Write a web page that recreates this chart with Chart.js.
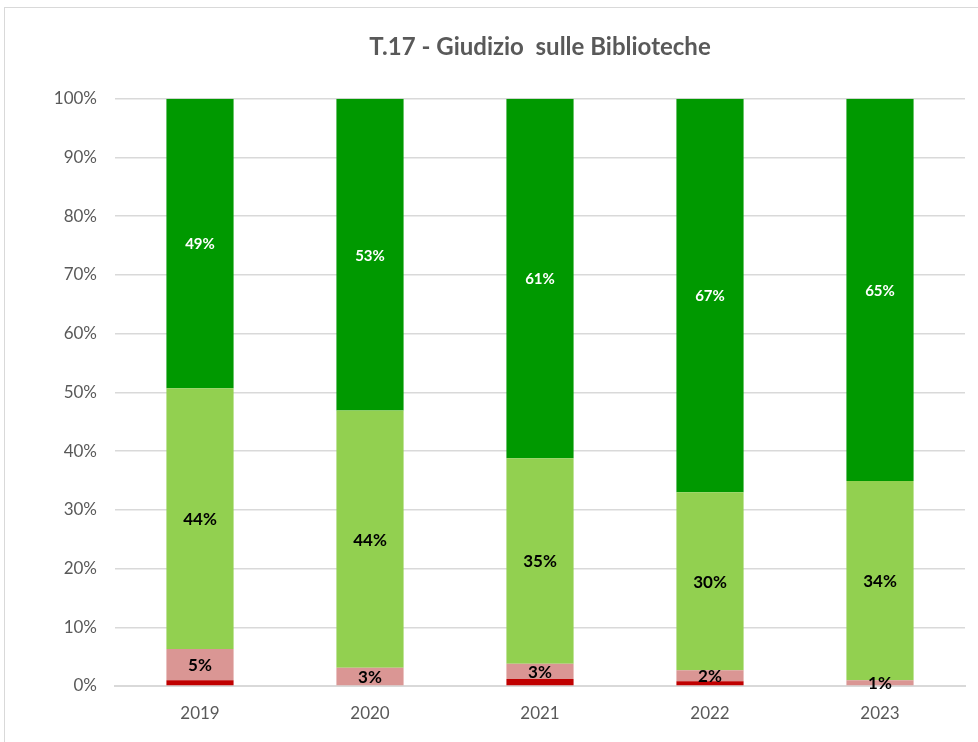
<!DOCTYPE html>
<html>
<head>
<meta charset="utf-8">
<script src="https://cdn.jsdelivr.net/npm/chart.js@4.4.1/dist/chart.umd.min.js"></script>
<style>
  body { margin: 0; background: #fff; }
  #wrap { position: relative; width: 978px; height: 742px; }
  #frame { position: absolute; left: 4px; top: 7px; width: 990px; height: 760px;
           border: 1px solid #d9d9d9; pointer-events: none; }
</style>
</head>
<body>
<div id="wrap">
  <canvas id="chart_biblioteche" width="978" height="742"></canvas>
  <div id="frame"></div>
</div>
<script>
// values (percent of answers)
var years = ['2019', '2020', '2021', '2022', '2023'];
var perNiente = [1.0, 0, 1.2, 0.8, 0];
var poco = [5.3, 3.1, 2.6, 1.9, 1.0];
var abbastanza = [44.4, 43.8, 35.0, 30.3, 33.9];
var molto = [49.3, 53.1, 61.2, 67.0, 65.1];
var yTicks = [0, 10, 20, 30, 40, 50, 60, 70, 80, 90, 100];

var fontName = 'Lato, "Open Sans", sans-serif';

// simple label plugin: writes the rounded value in the middle of each segment
var segmentLabels = {
  id: 'segmentLabels',
  afterDatasetsDraw: function(chart) {
    var ctx = chart.ctx;
    ctx.save();
    ctx.textAlign = 'center';
    ctx.textBaseline = 'middle';
    chart.data.datasets.forEach(function(ds, i) {
      if (!ds.showLabel) return;
      var meta = chart.getDatasetMeta(i);
      meta.data.forEach(function(bar, j) {
        var v = ds.data[j];
        if (!v) return;
        ctx.fillStyle = ds.labelColor;
        ctx.font = 'bold ' + ds.labelSize + 'px ' + fontName;
        var y = (bar.y + bar.base) / 2;
        ctx.fillText(Math.round(v) + '%', bar.x, y + 1);
      });
    });
    ctx.restore();
  }
};

var ctx = document.getElementById('chart_biblioteche');

new Chart(ctx, {
  type: 'bar',
  data: {
    labels: years,
    datasets: [
      { label: 'Per niente soddisfatto', data: perNiente, backgroundColor: '#C00000', showLabel: false },
      { label: 'Poco soddisfatto', data: poco, backgroundColor: '#DA9694', showLabel: true, labelColor: '#000', labelSize: 17 },
      { label: 'Abbastanza soddisfatto', data: abbastanza, backgroundColor: '#92D050', showLabel: true, labelColor: '#000', labelSize: 17 },
      { label: 'Molto soddisfatto', data: molto, backgroundColor: '#009900', showLabel: true, labelColor: '#fff', labelSize: 15 }
    ]
  },
  options: {
    responsive: false,
    animation: false,
    datasets: {
      bar: { categoryPercentage: 1, barPercentage: 0.395 }
    },
    layout: { padding: { left: 0, right: 13, top: 0, bottom: 0 } },
    scales: {
      x: {
        stacked: true,
        grid: { display: false, drawTicks: false },
        border: { color: '#d9d9d9', width: 2 },
        ticks: { color: '#595959', font: { family: fontName, size: 17 }, padding: 17 },
        afterFit: function(scale) { scale.height = 56; }
      },
      y: {
        stacked: true,
        min: 0,
        max: 100,
        afterBuildTicks: function(scale) {
          scale.ticks = yTicks.map(function(v) { return { value: v }; });
        },
        grid: { color: '#d9d9d9', lineWidth: 1.5, drawTicks: false },
        border: { display: false },
        ticks: {
          color: '#595959',
          font: { family: fontName, size: 17 },
          padding: 18,
          callback: function(v) { return v + '%'; }
        },
        afterFit: function(scale) { scale.width = 115; }
      }
    },
    plugins: {
      legend: { display: false },
      tooltip: { enabled: false },
      title: {
        display: true,
        fullSize: false,
        text: 'T.17 - Giudizio  sulle Biblioteche',
        color: '#595959',
        font: { family: fontName, size: 24, weight: 'bold' },
        padding: { top: 33, bottom: 37 }
      }
    }
  },
  plugins: [segmentLabels]
});
</script>
</body>
</html>
